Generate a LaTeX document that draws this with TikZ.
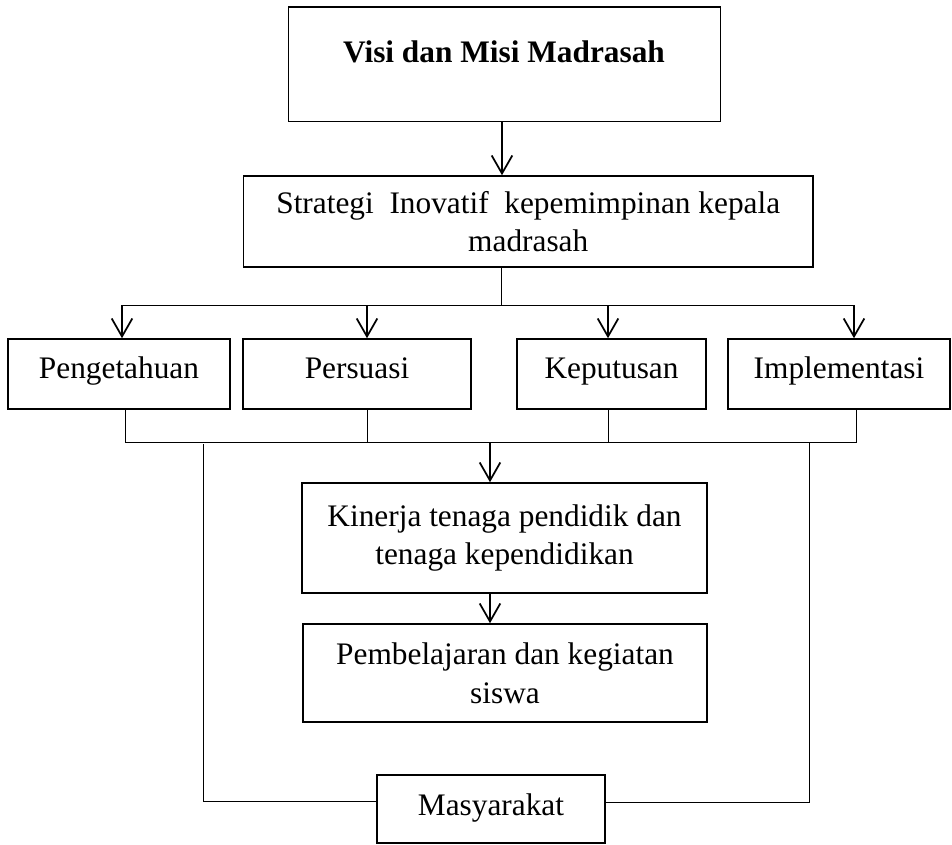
\documentclass[tikz,border=0pt]{standalone}
\usepackage{fontspec}
\setmainfont{Liberation Serif}
\usetikzlibrary{arrows.meta}
\begin{document}
\begin{tikzpicture}[x=0.75pt,y=-0.75pt,
  txt/.style={font=\fontsize{23.5}{29}\selectfont},
  box/.style={draw, line width=1.2pt, inner sep=0pt, align=center, txt},
  one/.style={text height=14pt, text depth=8pt},
  conn/.style={line width=0.75pt},
  arr/.style={line width=1.2pt, -{Straight Barb[length=13.5pt,width=15.5pt,line width=1.3pt]}}]
\useasboundingbox (0,0) rectangle (952,845);
% boxes
\node[box, minimum width=324pt, minimum height=85.8pt] (visi) at (504.6,64.5) {};
\node[txt, font=\fontsize{23.5}{29}\selectfont\bfseries, anchor=base] (visitext) at (504,63) {Visi dan Misi Madrasah};
\node[box, minimum width=427.1pt, minimum height=68.25pt] (strat) at (528.25,221.5) {Strategi\ \ Inovatif\ \ kepemimpinan kepala\\madrasah};
\node[box, one, minimum width=166.5pt, minimum height=52.5pt] (peng) at (119,374) {Pengetahuan};
\node[box, one, minimum width=171pt, minimum height=52.5pt] (pers) at (357,374) {Persuasi};
\node[box, one, minimum width=141.75pt, minimum height=52.5pt] (kep) at (611.5,374) {Keputusan};
\node[box, one, minimum width=166.5pt, minimum height=52.5pt] (impl) at (839,374) {Implementasi};
\node[box, minimum width=303.75pt, minimum height=82.5pt] (kin) at (504.5,538) {Kinerja tenaga pendidik dan\\tenaga kependidikan};
\node[box, minimum width=303pt, minimum height=73.5pt] (pemb) at (505,673) {Pembelajaran dan kegiatan\\siswa};
\node[box, text height=15pt, text depth=6pt, minimum width=171pt, minimum height=51pt] (masy) at (491,809) {Masyarakat};
% junction coordinates
\coordinate (va) at (502,0);
\coordinate (hstem) at (501,305);
\coordinate (hb1) at (122,305);
\coordinate (ha2) at (367,305);
\coordinate (ha3) at (608,305);
\coordinate (hb2) at (854,305);
\coordinate (b1) at (125,442);
\coordinate (b2) at (367,442);
\coordinate (b3) at (608,442);
\coordinate (b4) at (856,442);
\coordinate (b5) at (490,442);
\coordinate (s1) at (203,444);
\coordinate (s1b) at (203,801);
\coordinate (s2) at (809,443);
\coordinate (s2b) at (809,802);
% connectors
\draw[arr] (visi.south -| va) -- (strat.north -| va);
\draw[conn] (strat.south -| hstem) -- (hstem);
\draw[conn] (hb1) -- (hb2);
\draw[arr] (hb1) -- (peng.north -| hb1);
\draw[arr] (ha2) -- (pers.north -| ha2);
\draw[arr] (ha3) -- (kep.north -| ha3);
\draw[arr] (hb2) -- (impl.north -| hb2);
\draw[conn] (peng.south -| b1) -- (b1) -- (b4) -- (impl.south -| b4);
\draw[conn] (pers.south -| b2) -- (b2);
\draw[conn] (kep.south -| b3) -- (b3);
\draw[arr] (b5) -- (kin.north -| b5);
\draw[arr] (kin.south -| b5) -- (pemb.north -| b5);
\draw[conn] (s1) -- (s1b) -- (s1b -| masy.west);
\draw[conn] (s2) -- (s2b) -- (s2b -| masy.east);
\end{tikzpicture}
\end{document}
